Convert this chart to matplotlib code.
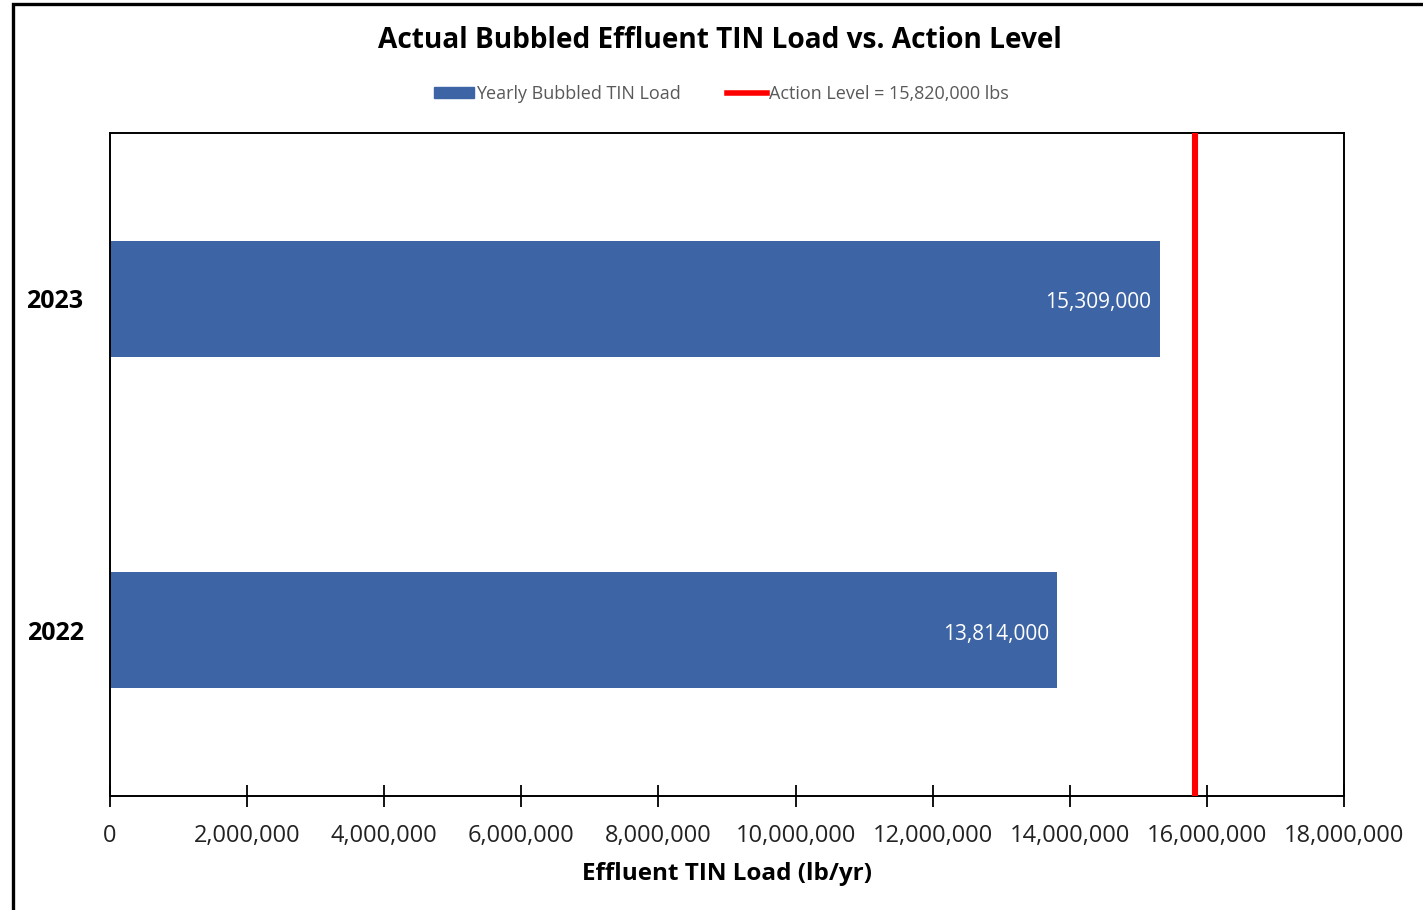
import matplotlib
matplotlib.use("Agg")
import matplotlib.pyplot as plt
from matplotlib.patches import Rectangle
from matplotlib.lines import Line2D
from matplotlib.ticker import FuncFormatter

years = ["2022", "2023"]
loads = [13814000, 15309000]
action_level = 15820000
x_ticks = list(range(0, 18000001, 2000000))

BLUE = "#3D64A5"
RED = "#FF0000"
GREY = "#595959"


def main() -> None:
    plt.rcParams["font.family"] = ["Open Sans", "DejaVu Sans"]

    fig = plt.figure(figsize=(14.23, 9.10), dpi=100)
    ax = fig.add_axes([0.0773, 0.1253, 0.8672, 0.7285])

    bars = ax.barh(years, loads, height=0.35, color=BLUE, zorder=2)
    ax.axvline(action_level, color=RED, linewidth=4.4, zorder=3)

    for bar, val in zip(bars, loads):
        ax.text(bar.get_width() - 120000, bar.get_y() + bar.get_height() / 2 - 0.012,
                f"{val:,}", color="white", fontsize=15, ha="right", va="center")

    ax.set_xlim(0, 18000000)
    ax.set_ylim(-0.5, 1.5)
    ax.set_xticks(x_ticks)
    ax.xaxis.set_major_formatter(FuncFormatter(lambda v, p: f"{int(v):,}"))
    ax.tick_params(axis="x", direction="inout", length=16, width=1.3,
                   labelsize=17, labelcolor="#222222", pad=12)
    ax.tick_params(axis="y", length=0, labelsize=18, pad=19)
    for lbl in ax.get_yticklabels():
        lbl.set_fontweight("bold")
    for sp in ax.spines.values():
        sp.set_linewidth(1.4)
        sp.set_color("black")

    ax.set_xlabel("Effluent TIN Load (lb/yr)", fontsize=17.5, fontweight="bold", labelpad=10)

    fig.text(0.506, 0.955, "Actual Bubbled Effluent TIN Load vs. Action Level",
             fontsize=20.2, fontweight="bold", ha="center", va="center")

    handles = [
        Rectangle((0, 0), 1, 1, color=BLUE),
        Line2D([0], [0], color=RED, linewidth=4),
    ]
    fig.legend(handles, ["Yearly Bubbled TIN Load", "Action Level = 15,820,000 lbs"],
               loc="center", bbox_to_anchor=(0.507, 0.897), ncol=2, frameon=False,
               fontsize=13, labelcolor=GREY, handlelength=2.2, handleheight=0.55,
               handletextpad=0.1, columnspacing=2.6)

    fig.add_artist(Rectangle((13 / 1423, -0.05), 1.2, 1.05 - 3.5 / 910,
                             transform=fig.transFigure, fill=False,
                             edgecolor="black", linewidth=2.4, clip_on=False))

    fig.savefig("out.png", dpi=100)
    plt.close(fig)


if __name__ == "__main__":
    main()
